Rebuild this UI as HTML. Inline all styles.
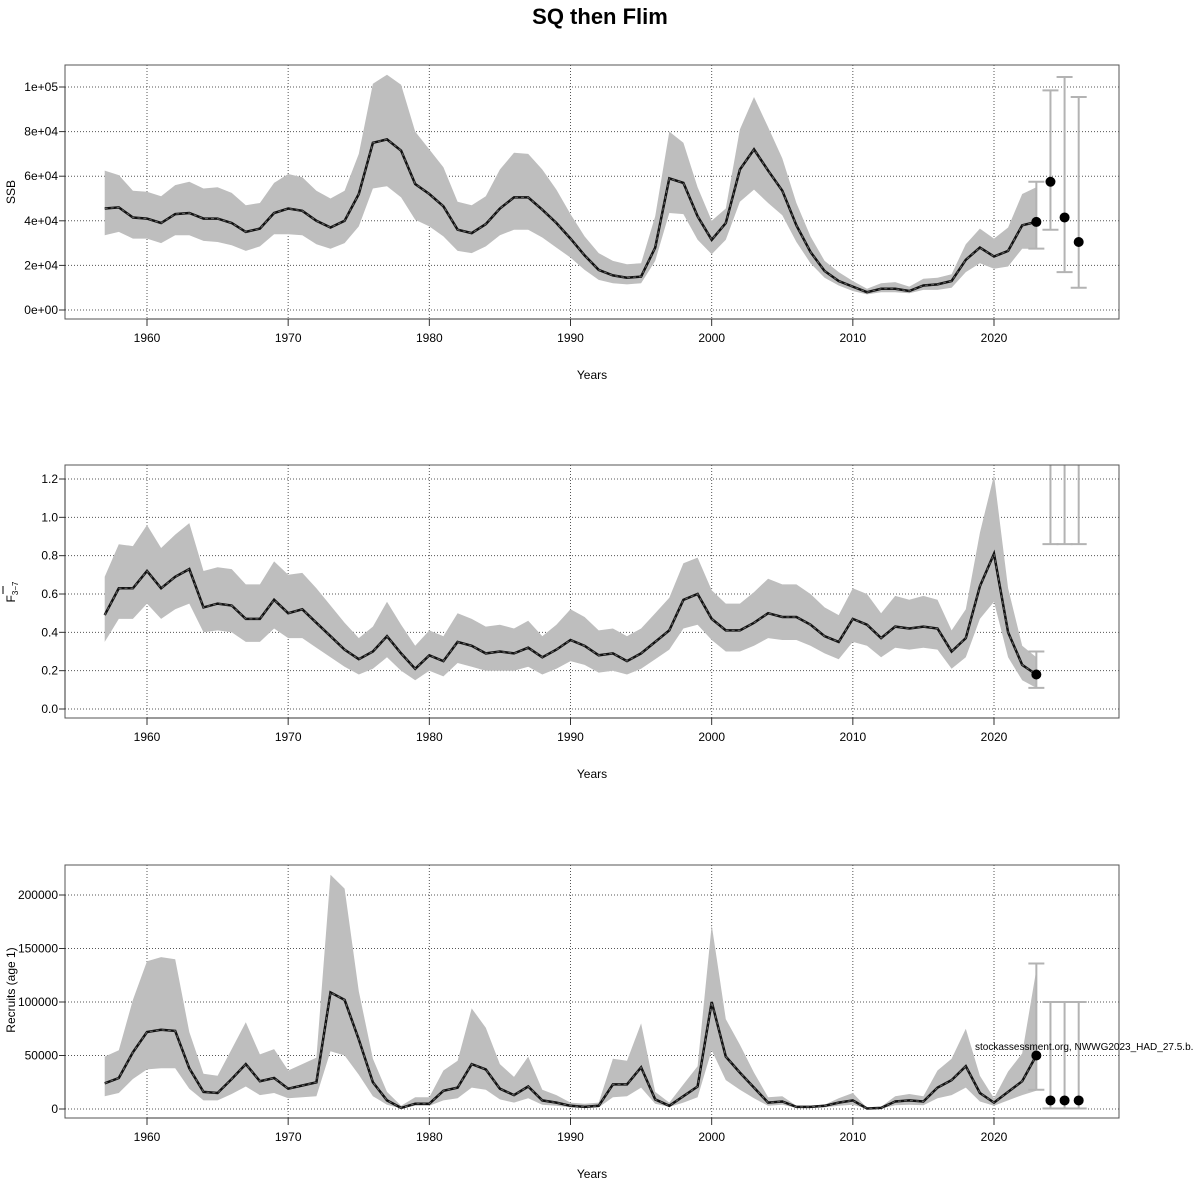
<!DOCTYPE html>
<html><head><meta charset="utf-8"><style>
body{margin:0;background:#fff}
svg{display:block;font-family:"Liberation Sans",sans-serif}
</style></head><body>
<svg id="chart" width="1200" height="1200" xmlns="http://www.w3.org/2000/svg">
<text x="600" y="24" text-anchor="middle" font-size="22" font-weight="bold">SQ then Flim</text>
</svg>
<script>
const years = [];
for (let y = 1957; y <= 2023; y++) years.push(y);
const ssbMid = [45.5,46,41.5,41,39,43,43.5,41,41,39,35,36.5,43.5,45.5,44.5,40,37,40,52,75,76.5,71.5,56.5,52,46.5,36,34.5,38.5,45.5,50.5,50.5,45,39,32,24.5,18,15.5,14.5,15,28,59,57,42,31.5,39,63,72,62.5,53.5,38,26,17.5,13,10.5,8,9.5,9.5,8.5,11,11.5,13,22.5,28,24,26.5,38,39.5];
const ssbHi = [62.5,60.5,53.5,53,51,56,57.5,54.5,55,52.5,47,48,57,61,59.5,53.5,50,53.5,70,101.5,105.5,101,80,72,64,48.5,47,51,63,70.5,70,63,54,43,33,25.5,22,20.5,21,42,80,75,55,40,45.5,81,95.5,82,68,48,33,22,17,13,9.5,12,12.5,10.5,14,14.5,16,29.5,36.5,32,37,52,55];
const ssbLo = [33.5,35,32,32,30,33.5,33.5,31,30.5,29,26.5,28.5,34,34,33.5,29.5,27.5,30,37.5,54.5,55.5,50.5,40.5,37.5,33,26.5,25.5,28.5,33.5,36,36,32.5,28,23.5,18,13.5,12,11.5,12,22,43.5,43,31.5,25,31.5,48.5,54,48,42.5,30.5,21,14.5,11,8.5,7,8,8,7.5,9,9,10,17,21,18.5,19.5,27.5,27.5];
const fMid = [0.49,0.63,0.63,0.72,0.63,0.69,0.73,0.53,0.55,0.54,0.47,0.47,0.57,0.50,0.52,0.45,0.38,0.31,0.26,0.30,0.38,0.29,0.21,0.28,0.25,0.35,0.33,0.29,0.30,0.29,0.32,0.27,0.31,0.36,0.33,0.28,0.29,0.25,0.29,0.35,0.41,0.57,0.60,0.47,0.41,0.41,0.45,0.50,0.48,0.48,0.44,0.38,0.35,0.47,0.44,0.37,0.43,0.42,0.43,0.42,0.30,0.37,0.64,0.81,0.40,0.23,0.18];
const fHi = [0.69,0.86,0.85,0.96,0.84,0.91,0.97,0.72,0.74,0.73,0.65,0.65,0.77,0.70,0.71,0.63,0.54,0.45,0.37,0.43,0.56,0.44,0.33,0.41,0.38,0.50,0.47,0.43,0.44,0.42,0.46,0.38,0.44,0.52,0.48,0.41,0.42,0.38,0.42,0.50,0.58,0.76,0.79,0.62,0.55,0.55,0.61,0.68,0.65,0.65,0.60,0.53,0.49,0.63,0.60,0.50,0.59,0.57,0.59,0.57,0.41,0.52,0.92,1.22,0.63,0.33,0.27];
const fLo = [0.35,0.47,0.47,0.55,0.47,0.52,0.55,0.40,0.41,0.40,0.35,0.35,0.42,0.37,0.37,0.32,0.27,0.22,0.18,0.21,0.27,0.20,0.15,0.20,0.17,0.24,0.22,0.20,0.20,0.20,0.22,0.18,0.21,0.25,0.23,0.19,0.20,0.18,0.21,0.26,0.31,0.42,0.44,0.36,0.30,0.30,0.33,0.37,0.36,0.36,0.33,0.29,0.26,0.35,0.33,0.27,0.32,0.31,0.32,0.31,0.21,0.27,0.47,0.56,0.27,0.15,0.11];
const recMid = [24,29,53,72,74,73,38,16,15,28,42,26,29,19,22,25,109,102,65,25,8,1,5,5,17,20,42,37,19,13,21,8,6,3,2,3,23,23,39,9,3,12,21,100,49,34,20,6,7,2,2,3,6,8,0.5,1,7,8,7,20,27,40,15,6,16,26,50];
const recHi = [49,55,102,138,142,140,72,33,31,56,81,51,56,36,42,48,219,206,110,47,16,3,11,11,36,45,94,76,42,30,49,18,13,6,5,6,47,45,80,16,6,23,40,172,84,60,34,11,12,3,3,4,10,15,1,2,12,14,12,36,47,75,31,10,35,52,130];
const recLo = [12,15,28,37,38,38,19,8,8,14,21,13,15,10,11,12,54,50,32,12,4,0.5,3,3,8,10,20,18,9,6,10,4,3,1.5,1,1.5,11,12,20,5,2,6,11,55,27,18,10,3,4,1,1,1.5,3,4,0.2,0.5,3.5,4,3.5,10,13,20,7,3,8,13,17];
const projYears = [2023,2024,2025,2026];
const ssbProj = [39.5,57.5,41.5,30.5];
const ssbProjLo = [27.5,36,17,10];
const ssbProjHi = [57.5,98.5,104.5,95.5];
const fProj = [0.18,1.6,1.6,1.6];
const fProjLo = [0.11,0.86,0.86,0.86];
const fProjHi = [0.30,1.8,1.8,1.8];
const recProj = [50,8,8,8];
const recProjLo = [18,0.5,0.5,0.5];
const recProjHi = [136,100,100,100];
const ssbTicks = [0,20,40,60,80,100];
const ssbTickLabels = ["0e+00","2e+04","4e+04","6e+04","8e+04","1e+05"];
const fTicks = [0,0.2,0.4,0.6,0.8,1.0,1.2];
const fTickLabels = ["0.0","0.2","0.4","0.6","0.8","1.0","1.2"];
const recTicks = [0,50,100,150,200];
const recTickLabels = ["0","50000","100000","150000","200000"];
const xTicks = [1960,1970,1980,1990,2000,2010,2020];

const NS = "http://www.w3.org/2000/svg";
const svg = document.getElementById('chart');
function mk(tag, attrs, parent) {
  const e = document.createElementNS(NS, tag);
  for (const k in attrs) e.setAttribute(k, attrs[k]);
  (parent || svg).appendChild(e);
  return e;
}
const xs = y => 147 + (y - 1960) * (847 / 60);
const L = 65, R = 1119;

function panel(key, top, bot, y0px, y1px, v1, ticks, tickLabels, mid, hi, lo, pm, plo, phi, ylabelEls) {
  const ys = v => y0px + (y1px - y0px) * v / v1;
  const g = mk('g', {});
  
  
  const clipId = 'clip-' + key;
  const cp = mk('clipPath', {id: clipId}, g);
  mk('rect', {x: L, y: top, width: R - L, height: bot - top}, cp);
  // grid
  xTicks.forEach(t => {
    const l = mk('line', {x1: xs(t), x2: xs(t), y1: top, y2: bot, stroke: '#555', 'stroke-width': 1, 'stroke-dasharray': '1,2'}, g);
    
    
  });
  ticks.forEach(t => {
    const l = mk('line', {x1: L, x2: R, y1: ys(t), y2: ys(t), stroke: '#555', 'stroke-width': 1, 'stroke-dasharray': '1,2'}, g);
    
    
  });
  const cg = mk('g', {'clip-path': 'url(#' + clipId + ')'}, g);
  // band
  let d = '';
  years.forEach((y, i) => { d += (i ? 'L' : 'M') + xs(y).toFixed(1) + ',' + ys(hi[i]).toFixed(1); });
  for (let i = years.length - 1; i >= 0; i--) d += 'L' + xs(years[i]).toFixed(1) + ',' + ys(lo[i]).toFixed(1);
  const band = mk('path', {d: d + 'Z', fill: '#bebebe', stroke: 'none'}, cg);
  
  
  let ld = '';
  years.forEach((y, i) => { ld += (i ? 'L' : 'M') + xs(y).toFixed(1) + ',' + ys(mid[i]).toFixed(1); });
  const line = mk('path', {d: ld, fill: 'none', stroke: '#111', 'stroke-width': 2.5}, cg);
  
  
  mk('path', {d: ld, fill: 'none', stroke: '#666', 'stroke-width': 1, 'stroke-dasharray': '3,3'}, cg);
  // projections
  projYears.forEach((y, i) => {
    const x = xs(y);
    const eb = mk('g', {stroke: '#b3b3b3', 'stroke-width': 2}, cg);
    
    
    mk('line', {x1: x, x2: x, y1: ys(plo[i]), y2: ys(phi[i])}, eb);
    mk('line', {x1: x - 8, x2: x + 8, y1: ys(plo[i]), y2: ys(plo[i])}, eb);
    mk('line', {x1: x - 8, x2: x + 8, y1: ys(phi[i]), y2: ys(phi[i])}, eb);
    const c = mk('circle', {cx: x, cy: ys(pm[i]), r: 5, fill: '#000'}, cg);
    
    
  });
  // box
  mk('rect', {x: L, y: top, width: R - L, height: bot - top, fill: 'none', stroke: '#555', 'stroke-width': 1}, g);
  // y axis
  const ya = mk('g', {}, g);
  
  
  ticks.forEach((t, i) => {
    mk('line', {x1: L - 6, x2: L, y1: ys(t), y2: ys(t), stroke: '#333'}, ya);
    const tx = mk('text', {x: L - 7, y: ys(t) + 4, 'text-anchor': 'end', 'font-size': 12}, ya);
    tx.textContent = tickLabels[i];
  });
  mk('line', {x1: L, x2: L, y1: ys(ticks[0]), y2: ys(ticks[ticks.length - 1]), stroke: '#333'}, ya);
  // x axis
  const xa = mk('g', {}, g);
  
  
  mk('line', {x1: xs(1960), x2: xs(2020), y1: bot, y2: bot, stroke: '#333'}, xa);
  xTicks.forEach(t => {
    mk('line', {x1: xs(t), x2: xs(t), y1: bot, y2: bot + 7, stroke: '#333'}, xa);
    const tx = mk('text', {x: xs(t), y: bot + 23, 'text-anchor': 'middle', 'font-size': 12}, xa);
    tx.textContent = t;
  });
  const xt = mk('text', {x: 592, y: bot + 60, 'text-anchor': 'middle', 'font-size': 12}, g);
  
  
  xt.textContent = 'Years';
  return {g, ys};
}

const p1 = panel('ssb', 65, 319, 310, 87, 100, ssbTicks, ssbTickLabels, ssbMid, ssbHi, ssbLo, ssbProj, ssbProjLo, ssbProjHi);
const p2 = panel('f', 465, 718, 709, 479, 1.2, fTicks, fTickLabels, fMid, fHi, fLo, fProj, fProjLo, fProjHi);
const p3 = panel('recruits', 865, 1118, 1109, 895, 200, recTicks, recTickLabels, recMid, recHi, recLo, recProj, recProjLo, recProjHi);

function ylab(txt, cy, name) {
  const t = mk('text', {x: 0, y: 0, 'text-anchor': 'middle', 'font-size': 12, transform: 'translate(15,' + cy + ') rotate(-90)'});
  
  
  t.textContent = txt;
  return t;
}
ylab('SSB', 192, 'ssb-y-axis-title');
const fl = ylab('', 592, 'f-y-axis-title');
const ts1 = mk('tspan', {}, fl); ts1.textContent = 'F';
const ts2 = mk('tspan', {'font-size': 8, dy: 3}, fl); ts2.textContent = '3−7';
mk('line', {x1: 3, x2: 3, y1: 586, y2: 594, stroke: '#000', 'stroke-width': 1});
ylab('Recruits (age 1)', 990, 'recruits-y-axis-title');

const wm = mk('text', {x: 975, y: 1050, 'font-size': 10});


wm.textContent = 'stockassessment.org, NWWG2023_HAD_27.5.b.';
</script>
</body></html>
